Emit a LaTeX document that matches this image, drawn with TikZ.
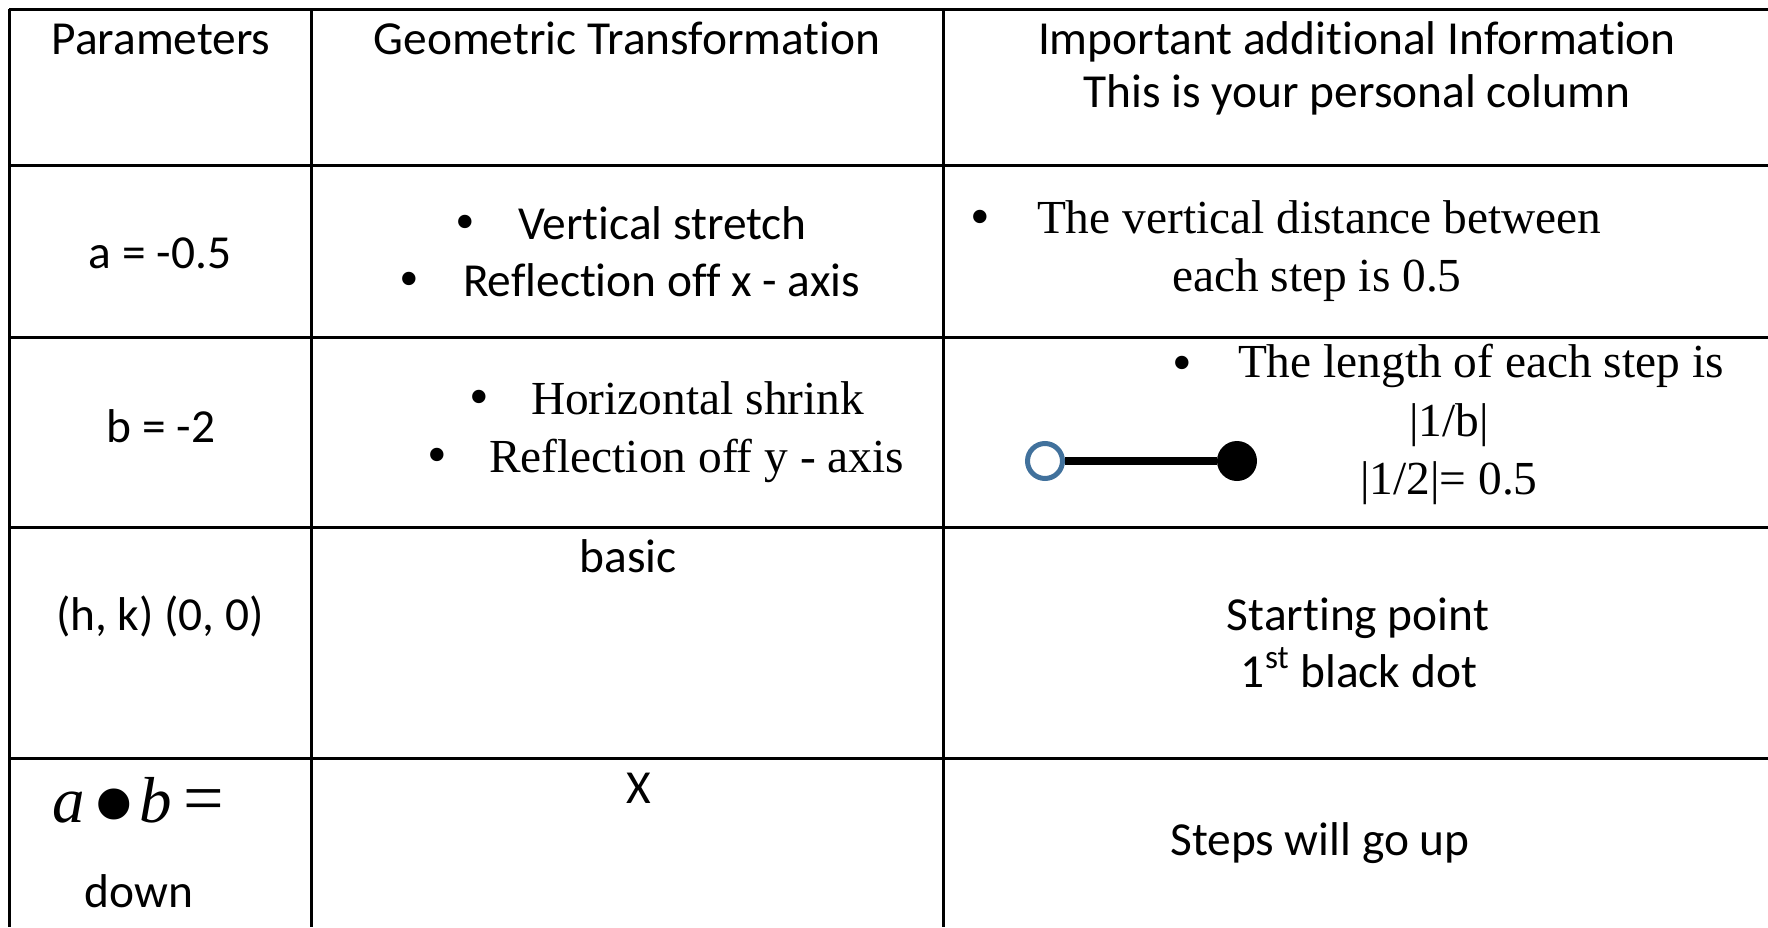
\documentclass[tikz,border=0pt]{standalone}
\usepackage{fontspec}
\setmainfont{Carlito}[Ligatures=NoCommon]
\newfontfamily\tnr{Liberation Serif}
\definecolor{ringblue}{RGB}{65,113,156}
\begin{document}
\begin{tikzpicture}[x=0.5pt,y=-0.5pt,
  gridline/.style={line width=1.5pt},
  cal/.style={inner sep=0pt, outer sep=0pt, font=\fontsize{23.7}{28}\selectfont},
  tms/.style={inner sep=0pt, outer sep=0pt, font=\tnr\fontsize{23.7}{28}\selectfont},
  bul/.style={inner sep=0pt, outer sep=0pt, anchor=base, font=\tnr\fontsize{28}{30}\selectfont},
  mth/.style={inner sep=0pt, outer sep=0pt, anchor=base west, font=\tnr\itshape\fontsize{32.5}{36}\selectfont},
  opendot/.style={circle, draw=ringblue, fill=white, line width=2.5pt, minimum size=35pt*0.5, inner sep=0pt},
  fulldot/.style={circle, fill=black, minimum size=40pt*0.5, inner sep=0pt}]
\useasboundingbox (0,0) rectangle (1768,927);
% horizontal lines
\foreach \yy in {9,165,337,527,758}{
  \draw[gridline] (9,\yy) -- (1768,\yy);
}
% vertical lines
\foreach \xx in {9,311,943}{
  \draw[gridline] (\xx,9) -- (\xx,927);
}
% header
\node[cal, anchor=base] (h1) at (161,54) {Parameters};
\node[cal, anchor=base] (h2) at (627,54) {Geometric Transformation};
\node[cal, anchor=base] (h3a) at (1357,54) {Important additional Information};
\node[cal, anchor=base] (h3b) at (1357,107) {This is your personal column};
% row a
\node[cal, anchor=base] (ra) at (160,268) {a = -0.5};
\node[bul] (ba1) at (465,240) {•};
\node[cal, anchor=base west] (ta1) at (518,239) {Vertical stretch};
\node[bul] (ba2) at (409,297) {•};
\node[cal, anchor=base west] (ta2) at (463,296) {Reflection off x - axis};
\node[bul] (bc1) at (980,235) {•};
\node[tms, anchor=base west] (tc1) at (1037,233) {The vertical distance between};
\node[tms, anchor=base west] (tc2) at (1172,291) {each step is 0.5};
% row b
\node[cal, anchor=base] (rb) at (161,442) {b = -2};
\node[bul] (bb1) at (479,415) {•};
\node[tms, anchor=base west] (tb1) at (531,414) {Horizontal shrink};
\node[bul] (bb2) at (437,473) {•};
\node[tms, anchor=base west] (tb2) at (489,472) {Reflection off y - axis};
\node[bul] (bd1) at (1182,381) {•};
\node[tms, anchor=base west] (td1) at (1238,377) {The length of each step is};
\node[tms, anchor=base] (td2) at (1449,436) {|1/b|};
\node[tms, anchor=base] (td3) at (1449,494) {|1/2|= 0.5};
\node[opendot] (od) at (1045,461) {};
\node[fulldot] (fd) at (1237,461) {};
\draw[line width=4pt] (od) -- (fd);
% row hk
\node[cal, anchor=base] (rh) at (160,630) {(h, k) (0, 0)};
\node[cal, anchor=base] (basic) at (628,572) {basic};
\node[cal, anchor=base] (sp1) at (1358,630) {Starting point};
\node[cal, anchor=base] (sp2) at (1359,687) {1\textsuperscript{st} black dot};
% row ab
\node[mth] (ma) at (53,822) {a};
\node[inner sep=0pt, outer sep=0pt, anchor=base, font=\tnr\fontsize{65}{68}\selectfont] (mdot) at (114.5,847) {•};
\node[mth] (mb) at (139,822) {b};
\node[mth, font=\tnr\fontsize{36}{40}\selectfont] (meq) at (183,822) {=};
\node[cal, anchor=base] (down) at (139,907) {down};
\node[cal, anchor=base] (xx) at (639,803) {X};
\node[cal, anchor=base] (up) at (1320,855) {Steps will go up};
\end{tikzpicture}
\end{document}
